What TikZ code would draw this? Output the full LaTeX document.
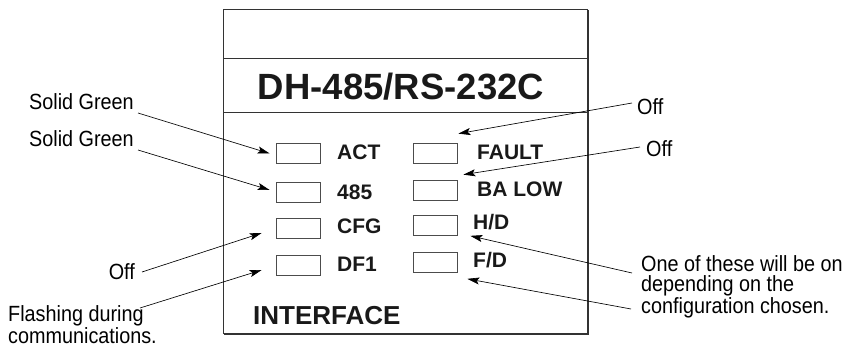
\documentclass[tikz,border=0pt]{standalone}
\usepackage{fontspec}
\setmainfont{Liberation Sans}
\newfontfamily\condfont[FakeStretch=0.9]{Liberation Sans}
\usetikzlibrary{arrows.meta}
\begin{document}
\begin{tikzpicture}[x=1pt,y=-1pt,
  led/.style={draw=black!70, line width=0.7pt, minimum width=44pt, minimum height=20pt, inner sep=0pt},
  lbl/.style={font=\fontsize{21}{24}\selectfont\bfseries, anchor=base west, inner sep=0pt, text=black!90},
  note/.style={font=\condfont\fontsize{22}{20.5}\selectfont, inner sep=0pt, align=left, text=black},
  ptr/.style={line width=0.65pt, draw=black, -{Stealth[length=12pt,width=7pt,inset=2.5pt]}}]
\useasboundingbox (0,0) rectangle (855,347);
% panel
\draw[line width=0.9pt, draw=black!80] (223,9) rectangle (587,333);
\draw[line width=1pt, draw=black!80] (588.2,10) -- (588.2,334.2) -- (224,334.2);
\draw[line width=0.8pt, draw=black!80] (223,58) -- (587,58);
\draw[line width=0.8pt, draw=black!80] (223,112) -- (587,112);
\node[font=\fontsize{36.5}{40}\selectfont\bfseries, anchor=base, inner sep=0pt, text=black!90] (title) at (401,100) {DH-485/RS-232C};
% LEDs
\node[led] (act) at (298,153.5) {};
\node[led] (b485) at (298,192) {};
\node[led] (cfg) at (298,228) {};
\node[led] (df1) at (298,265.5) {};
\node[led] (fault) at (435,153.5) {};
\node[led] (balow) at (435,190) {};
\node[led] (hd) at (435,225.5) {};
\node[led] (fd) at (435,262.5) {};
% labels
\node[lbl] (tact) at (337,160) {ACT};
\node[lbl] (t485) at (337,200) {485};
\node[lbl] (tcfg) at (337,234) {CFG};
\node[lbl] (tdf1) at (337,272) {DF1};
\node[lbl] (tfault) at (477,160) {FAULT};
\node[lbl] (tbalow) at (477,197) {BA LOW};
\node[lbl] (thd) at (473,230) {H/D};
\node[lbl] (tfd) at (473,268) {F/D};
\node[font=\fontsize{26}{30}\selectfont\bfseries, anchor=base west, inner sep=0pt, text=black!90] (iface) at (253,325) {INTERFACE};
% annotations
\node[note, anchor=base west] (sg1) at (29,110) {Solid Green};
\node[note, anchor=base west] (sg2) at (29,147) {Solid Green};
\node[note, anchor=base east] (offl) at (135,280) {Off};
\node[note, anchor=north west] (flash) at (8,305.5) {Flashing during\\communications.};
\node[note, anchor=base west] (offr1) at (637,115) {Off};
\node[note, anchor=base west] (offr2) at (646,157) {Off};
\node[note, anchor=north west] (one) at (641,255) {One of these will be on\\depending on the\\configuration chosen.};
% arrow starts
\coordinate (s1) at (138,113);
\coordinate (s2) at (138,150);
\coordinate (s3) at (142,272);
\coordinate (s4) at (140,308);
\coordinate (s5) at (632,103);
\coordinate (s6) at (640,147);
\coordinate (s7) at (632,273);
\coordinate (s8) at (631,309);
% arrows
\draw[ptr] (s1) -- ([xshift=-6pt]act.west);
\draw[ptr] (s2) -- ([xshift=-6pt,yshift=2pt]b485.west);
\draw[ptr] (s3) -- ([xshift=-14pt,yshift=-5pt]cfg.west);
\draw[ptr] (s4) -- ([xshift=-14pt,yshift=-4.5pt]df1.west);
\draw[ptr] (s5) -- ([xshift=1pt,yshift=9.5pt]fault.north east);
\draw[ptr] (s6) -- ([xshift=6pt,yshift=5pt]balow.north east);
\draw[ptr] (s7) -- ([xshift=13pt]hd.south east);
\draw[ptr] (s8) -- ([xshift=10pt,yshift=-6pt]fd.south east);
\end{tikzpicture}
\end{document}
